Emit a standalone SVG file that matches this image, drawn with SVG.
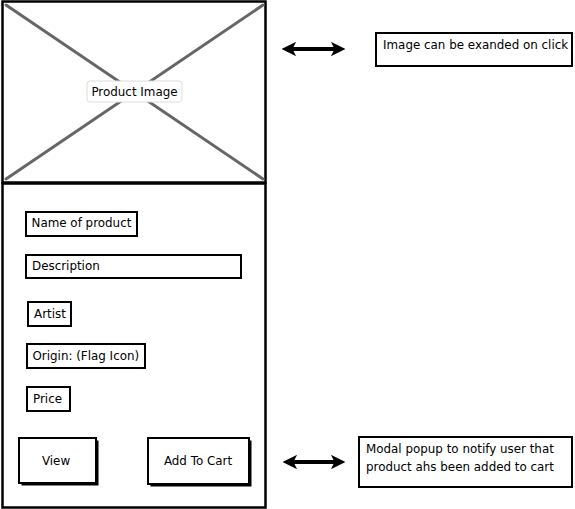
<svg xmlns="http://www.w3.org/2000/svg" width="575" height="509" viewBox="0 0 575 509">
  <style>
    .box { fill: #fff; stroke: #000; stroke-width: 2; }
    .frame { fill: #fff; stroke: #000; stroke-width: 2.5; }
    .txt { font-family: "DejaVu Sans", "Liberation Sans", sans-serif; font-size: 11.9px; fill: #000; }
    .mid { text-anchor: middle; }
    .cross { stroke: #666; stroke-width: 3; stroke-linecap: round; }
    .shadow { fill: #000; }
    .conn { stroke: #000; stroke-width: 4; fill: none; marker-start: url(#head); marker-end: url(#head); }
  </style>
  <defs>
    <marker id="head" viewBox="0 0 10 10" refX="7" refY="5" markerWidth="3.6" markerHeight="3.6" orient="auto-start-reverse">
      <path d="M0,0 L10,5 L0,10 L2.5,5 Z" fill="#000"/>
    </marker>
  </defs>

  <rect width="575" height="509" fill="#fff"/>

  <!-- product image placeholder -->
  <g id="product-image">
    <rect class="frame" x="2.5" y="1.5" width="263" height="181"/>
    <line class="cross" x1="6" y1="5" x2="263" y2="179"/>
    <line class="cross" x1="263" y1="5" x2="6" y2="179"/>
    <rect x="87" y="81" width="95" height="21" rx="3" fill="#fff" stroke="#ddd" stroke-width="1"/>
    <text class="txt mid" x="134.5" y="96">Product Image</text>
  </g>

  <!-- details panel -->
  <g id="details-panel">
    <rect class="frame" x="2.5" y="183.5" width="263" height="324"/>
  </g>

  <g id="name-field">
    <rect class="box" x="26" y="212" width="111" height="24"/>
    <text class="txt" x="31.5" y="227">Name of product</text>
  </g>

  <g id="description-field">
    <rect class="box" x="26" y="255" width="215" height="23"/>
    <text class="txt" x="32" y="270">Description</text>
  </g>

  <g id="artist-field">
    <rect class="box" x="28" y="302" width="43" height="24"/>
    <text class="txt" x="34" y="318">Artist</text>
  </g>

  <g id="origin-field">
    <rect class="box" x="27" y="344" width="118" height="24"/>
    <text class="txt" x="32.5" y="360">Origin: (Flag Icon)</text>
  </g>

  <g id="price-field">
    <rect class="box" x="27" y="387" width="43" height="24"/>
    <text class="txt" x="33" y="403">Price</text>
  </g>

  <g id="view-button">
    <rect class="shadow" x="21.5" y="440.5" width="77" height="45"/>
    <rect class="box" x="19" y="438" width="77" height="45"/>
    <text class="txt mid" x="56" y="465">View</text>
  </g>

  <g id="add-to-cart-button">
    <rect class="shadow" x="150.5" y="440.5" width="101" height="46"/>
    <rect class="box" x="148" y="438" width="101" height="46"/>
    <text class="txt mid" x="198" y="465">Add To Cart</text>
  </g>

  <g id="note-image">
    <rect class="box" x="376" y="33" width="196" height="33"/>
    <text class="txt" x="383" y="49">Image can be exanded on click</text>
  </g>

  <g id="note-cart">
    <rect class="box" x="359" y="437" width="213" height="50"/>
    <text class="txt" x="366" y="453">Modal popup to notify user that</text>
    <text class="txt" x="366" y="471">product ahs been added to cart</text>
  </g>

  <g id="connectors">
    <line class="conn" x1="286" y1="49" x2="341" y2="49"/>
    <line class="conn" x1="287" y1="462" x2="341" y2="462"/>
  </g>
</svg>
